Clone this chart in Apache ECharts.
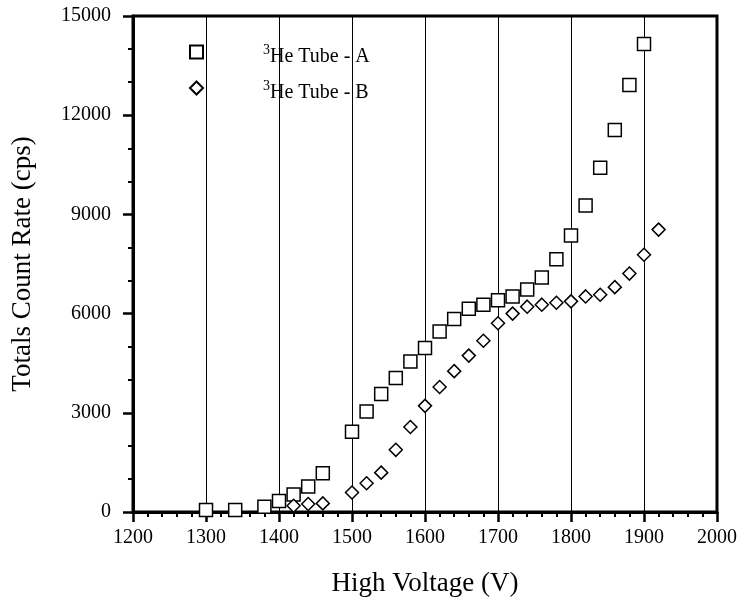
<!DOCTYPE html>
<html>
<head>
	<meta charset="UTF-8" />
	<title>3He tube count rate vs high voltage</title>
	<script src="https://cdn.jsdelivr.net/npm/echarts@6/dist/echarts.min.js"></script>
	<style>
		html, body { margin: 0; padding: 0; background: #fff; }
		#chart { width: 740px; height: 610px; }
	</style>
</head>
<body>
	<div id="chart"></div>
	<script type="text/javascript">
		// tube A (squares)
		const voltA = [1300, 1340, 1380, 1400, 1420, 1440, 1460, 1500, 1520, 1540, 1560, 1580, 1600, 1620,
			1640, 1660, 1680, 1700, 1720, 1740, 1760, 1780, 1800, 1820, 1840, 1860, 1880, 1900];
		const rateA = [60, 60, 160, 330, 530, 770, 1170, 2430, 3040, 3570, 4050, 4550, 4960, 5460,
			5840, 6150, 6270, 6400, 6520, 6730, 7090, 7640, 8360, 9270, 10410, 11550, 12910, 14150];
		// tube B (diamonds)
		const voltB = [1420, 1440, 1460, 1500, 1520, 1540, 1560, 1580, 1600, 1620, 1640, 1660, 1680,
			1700, 1720, 1740, 1760, 1780, 1800, 1820, 1840, 1860, 1880, 1900, 1920];
		const rateB = [190, 240, 260, 590, 870, 1190, 1880, 2570, 3210, 3780, 4260, 4730, 5180,
			5710, 6000, 6210, 6270, 6330, 6370, 6520, 6570, 6800, 7210, 7780, 8540];
		const seriesNames = ['3He Tube - A', '3He Tube - B'];

		const serif = '"Liberation Serif", "DejaVu Serif", serif';
		const pairs = (xs, ys) => xs.map((x, i) => [x, ys[i]]);
		const plain = v => String(v); // no thousands separator

		const chart = echarts.init(document.getElementById('chart'), null, { renderer: 'canvas' });

		const axisCommon = {
			type: 'value',
			axisLine: { show: true, lineStyle: { color: '#000', width: 3 } },
			axisTick: { show: true, length: 10, lineStyle: { color: '#000', width: 2.5 } },
			axisLabel: { color: '#000', fontFamily: serif, fontSize: 20, formatter: plain },
			nameLocation: 'middle',
			nameTextStyle: { color: '#000', fontFamily: serif, fontSize: 27 }
		};

		chart.setOption({
			animation: false,
			backgroundColor: '#fff',
			grid: { left: 133, right: 20, top: 16, bottom: 98, show: true, borderColor: '#000', borderWidth: 3 },
			legend: {
				orient: 'vertical',
				left: 189,
				top: 43,
				padding: 0,
				itemWidth: 13,
				itemHeight: 13,
				itemGap: 12,
				data: seriesNames,
				formatter: function (name) {
					return '{gap| }{sup|3}{t|' + name.slice(1) + '}';
				},
				textStyle: {
					color: '#000',
					fontFamily: serif,
					padding: [10, 0, 0, 0],
					rich: {
						gap: { width: 55 },
						sup: { fontSize: 14, fontFamily: serif, lineHeight: 12, verticalAlign: 'top', color: '#000' },
						t: { fontSize: 20, fontFamily: serif, lineHeight: 28, color: '#000' }
					}
				}
			},
			xAxis: Object.assign({}, axisCommon, {
				min: 1200, max: 2000, interval: 100,
				minorTick: { show: true, splitNumber: 5, length: 5, lineStyle: { color: '#000', width: 2 } },
				splitLine: { show: true, lineStyle: { color: '#000', width: 1 } },
				axisLabel: Object.assign({}, axisCommon.axisLabel, { margin: 16 }),
				name: 'High Voltage (V)',
				nameGap: 58
			}),
			yAxis: Object.assign({}, axisCommon, {
				min: 0, max: 15000, interval: 3000,
				minorTick: { show: true, splitNumber: 3, length: 5, lineStyle: { color: '#000', width: 2 } },
				splitLine: { show: false },
				axisLabel: Object.assign({}, axisCommon.axisLabel, { margin: 22 }),
				name: 'Totals Count Rate (cps)',
				nameGap: 97
			}),
			series: [
				{
					name: seriesNames[0],
					type: 'scatter',
					symbol: 'rect',
					symbolSize: 13,
					itemStyle: { color: '#fff', borderColor: '#000', borderWidth: 1.5, opacity: 1 },
					data: pairs(voltA, rateA)
				},
				{
					name: seriesNames[1],
					type: 'scatter',
					symbol: 'diamond',
					symbolSize: 13,
					itemStyle: { color: '#fff', borderColor: '#000', borderWidth: 1.5, opacity: 1 },
					data: pairs(voltB, rateB)
				}
			]
		});
	</script>
</body>
</html>
